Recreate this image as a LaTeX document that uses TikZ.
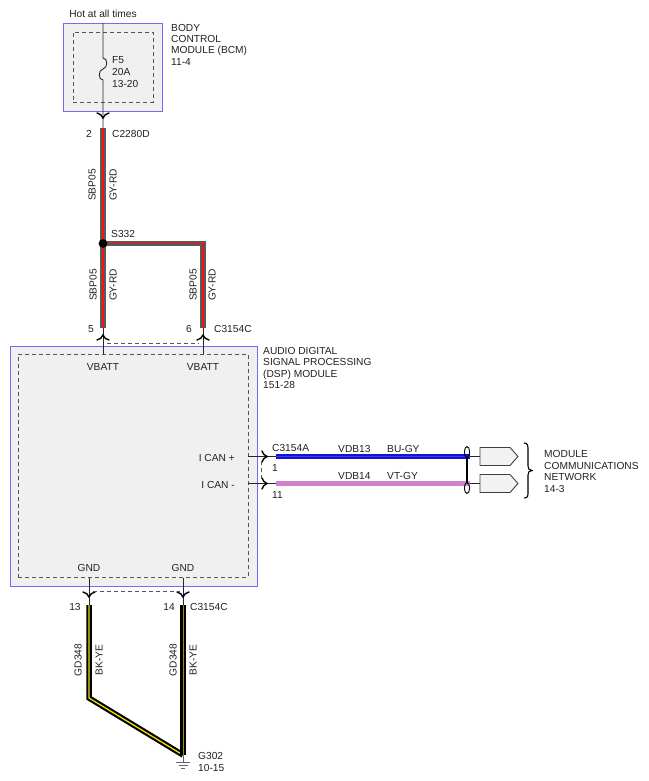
\documentclass[tikz,border=0pt]{standalone}
\usepackage{fontspec}
\setmainfont{Liberation Sans}
\definecolor{txt}{HTML}{222222}
\definecolor{boxblue}{HTML}{6E6EF5}
\definecolor{boxfill}{HTML}{F0F0F0}
\definecolor{dsh}{HTML}{555555}
\definecolor{wgray}{HTML}{5A5A5A}
\definecolor{wred}{HTML}{FF1010}
\definecolor{wblue}{HTML}{1414D0}
\definecolor{wbluest}{HTML}{3A3AE8}
\definecolor{wvt}{HTML}{D47ED4}
\definecolor{wvtst}{HTML}{B890B8}
\definecolor{wyel}{HTML}{F0E000}
\definecolor{wyeldk}{HTML}{A09000}
\definecolor{pentfill}{HTML}{F2F2F2}
\tikzset{
 lbl/.style={font=\fontsize{10.2}{11.3}\selectfont, text=txt, inner sep=0pt, anchor=base west},
 lblc/.style={lbl, anchor=base},
 lble/.style={lbl, anchor=base east},
 vlbl/.style={font=\fontsize{10.2}{11.3}\selectfont, text=txt, inner sep=0pt, rotate=90, anchor=center},
 modbox/.style={draw=boxblue, line width=1.2pt, fill=boxfill, inner sep=0pt, anchor=north west},
 inbox/.style={draw=dsh, line width=0.9pt, dash pattern=on 4pt off 3pt, inner sep=0pt, anchor=north west},
 thinw/.style={draw=black!85, line width=0.9pt},
 dashw/.style={draw=dsh, line width=0.9pt, dash pattern=on 4pt off 3pt},
 chev/.style={draw=black, line width=1.4pt, line cap=round},
 gyrd/.style={draw=wgray, double=wred, double distance=1.1pt, line width=2pt, line join=miter},
 bugy/.style={draw=wblue, double=wbluest, double distance=1pt, line width=2.2pt},
 vtgy/.style={draw=wvt, double=wvtst, double distance=1pt, line width=2.2pt},
 bkye/.style={draw=black, double=wyel, double distance=1.3pt, line width=2.1pt, line join=miter},
 bkyed/.style={draw=black, double=wyeldk, double distance=0.9pt, line width=2.3pt},
 pent/.style={draw=black!75, line width=0.9pt, fill=pentfill},
 chevdn/.pic={\draw[chev] (-6,-5) .. controls (-3,-4.5) and (-1,-2.5) .. (0,0) .. controls (1,-2.5) and (3,-4.5) .. (6,-5);},
 chevup/.pic={\draw[chev] (-6,5) .. controls (-3,4.5) and (-1,2.5) .. (0,0) .. controls (1,2.5) and (3,4.5) .. (6,5);},
 chevrt/.pic={\draw[chev] (-5,-5.5) .. controls (-4.5,-3) and (-2.5,-1) .. (0,0) .. controls (-2.5,1) and (-4.5,3) .. (-5,5.5);},
}
\begin{document}
\begin{tikzpicture}[x=1pt,y=-1pt]
\useasboundingbox[fill=white] (0,0) rectangle (648,781);

% ---------- BCM ----------
\node[modbox, minimum width=99pt, minimum height=88pt] (bcm) at (63,23) {};
\node[inbox, minimum width=80pt, minimum height=70pt] (bcmin) at (73,32) {};
\node[lblc] (hot) at (103,17.6) {Hot at all times};
\node[lbl] (bcm1) at (171,31.6) {BODY};
\node[lbl] (bcm2) at (171,42.8) {CONTROL};
\node[lbl] (bcm3) at (171,54.0) {MODULE (BCM)};
\node[lbl] (bcm4) at (171,65.2) {11-4};
\node[lbl] (f1) at (112,63.6) {F5};
\node[lbl] (f2) at (112,75.8) {20A};
\node[lbl] (f3) at (112,88.0) {13-20};
\coordinate (ftop) at (103,23);
\coordinate (fa) at (103,58);
\coordinate (fb) at (103,69);
\coordinate (fc) at (103,80);
\coordinate (c1) at (103,128);
\draw[thinw] (ftop) -- (fa) .. controls (108,58) and (108,68) .. (fb)
  .. controls (98,70) and (98,80) .. (fc) -- (c1);
\pic at (103,118) {chevdn};
\node[lblc] (p2) at (89,137.6) {2};
\node[lbl] (cn1) at (112,137.6) {C2280D};

% ---------- upper GY-RD wire ----------
\coordinate (s332) at (103,243.5);
\draw[gyrd] (c1) -- (s332);
\node[vlbl] (w1a) at (92,185) {SBP05};
\node[vlbl] (w1b) at (113,185) {GY-RD};
\coordinate (c5) at (103,328);
\coordinate (c6) at (203,328);
\draw[gyrd] (s332) -- (c5);
\draw[gyrd] (s332) -| (c6);
\fill[black] (s332) circle (4.4);
\node[lbl] (s332l) at (111,237.6) {S332};
\node[vlbl] (w2a) at (93,285) {SBP05};
\node[vlbl] (w2b) at (113,285) {GY-RD};
\node[vlbl] (w3a) at (193,285) {SBP05};
\node[vlbl] (w3b) at (212,285) {GY-RD};
\node[lblc] (p5) at (91,332.6) {5};
\node[lblc] (p6) at (189,332.6) {6};
\node[lbl] (cn2) at (214,332.6) {C3154C};

% ---------- DSP module ----------
\node[modbox, minimum width=247pt, minimum height=240pt] (dsp) at (10,346) {};
\node[inbox, minimum width=230pt, minimum height=223pt] (dspin) at (18,354) {};
\coordinate (vb1) at (103,354);
\coordinate (vb2) at (203,354);
\draw[thinw] (c5) -- (vb1);
\draw[thinw] (c6) -- (vb2);
\pic at (103,335) {chevup};
\pic at (203,335) {chevup};
\draw[dashw] (107,343) -- (199,343);
\node[lblc] (vbt1) at (103,370.6) {VBATT};
\node[lblc] (vbt2) at (203,370.6) {VBATT};
\node[lbl] (dsp1) at (263,354.6) {AUDIO DIGITAL};
\node[lbl] (dsp2) at (263,365.8) {SIGNAL PROCESSING};
\node[lbl] (dsp3) at (263,377.0) {(DSP) MODULE};
\node[lbl] (dsp4) at (263,388.2) {151-28};

% ---------- CAN ----------
\node[lble] (canp) at (235,461.3) {I CAN +};
\node[lble] (canm) at (235,488.0) {I CAN -};
\coordinate (cp0) at (248,456.5);
\coordinate (cm0) at (248,483.5);
\coordinate (cp1) at (276,456.5);
\coordinate (cm1) at (276,483.5);
\coordinate (cp2) at (470,456.5);
\coordinate (cm2) at (470,483.5);
\draw[thinw] (cp0) -- (cp1);
\draw[thinw] (cm0) -- (cm1);
\pic at (267,456.5) {chevrt};
\pic at (267,483.5) {chevrt};
\draw[dashw] (261,461) -- (261,479);
\node[lbl] (cn3) at (272,451.6) {C3154A};
\node[lbl] (p1) at (272,471.6) {1};
\node[lbl] (p11) at (272,498.6) {11};
\draw[bugy] (cp1) -- (cp2);
\draw[vtgy] (cm1) -- (cm2);
\node[lbl] (vdb13) at (338,452) {VDB13};
\node[lbl] (bugyl) at (387,452) {BU-GY};
\node[lbl] (vdb14) at (338,479) {VDB14};
\node[lbl] (vtgyl) at (387,479) {VT-GY};
% twisted pair
\draw[black, line width=0.9pt] (467,452) ellipse (2.6 and 5.5);
\draw[black, line width=0.9pt] (467,488) ellipse (2.6 and 5.5);
\draw[black, line width=1.1pt] (467,457) -- (467,482.5);
% module network
\coordinate (e1) at (480,456.5);
\coordinate (e2) at (480,483.5);
\draw[thinw] (cp2) -- (e1);
\draw[thinw] (cm2) -- (e2);
\draw[pent] (480,447.5) -- (510,447.5) -- (518,456.5) -- (510,465.5) -- (480,465.5) -- cycle;
\draw[pent] (480,474.5) -- (510,474.5) -- (518,483.5) -- (510,492.5) -- (480,492.5) -- cycle;
\draw[black, line width=1.1pt] (524,443) .. controls (528,443) and (528,446) .. (528,450) -- (528,466)
  .. controls (528,469) and (529,470) .. (532,470.5) .. controls (529,471) and (528,472) .. (528,475)
  -- (528,492) .. controls (528,496) and (528,498) .. (524,498);
\node[lbl] (mcn1) at (544,457.6) {MODULE};
\node[lbl] (mcn2) at (544,469.1) {COMMUNICATIONS};
\node[lbl] (mcn3) at (544,480.6) {NETWORK};
\node[lbl] (mcn4) at (544,492.1) {14-3};

% ---------- GND ----------
\node[lblc] (gnd1) at (89,571.6) {GND};
\node[lblc] (gnd2) at (183,571.6) {GND};
\coordinate (g1a) at (89,578);
\coordinate (g2a) at (183,578);
\coordinate (g1) at (89,605);
\coordinate (g2) at (183,605);
\draw[thinw] (g1a) -- (g1);
\draw[thinw] (g2a) -- (g2);
\pic at (89,597) {chevdn};
\pic at (183,597) {chevdn};
\draw[dashw] (93,591) -- (180,591);
\node[lblc] (p13) at (75,610.6) {13};
\node[lblc] (p14) at (169,610.6) {14};
\node[lbl] (cn4) at (190,610.6) {C3154C};
\coordinate (gb) at (89,698);
\coordinate (gg) at (183,755);
\draw[bkye] (g1) -- (gb) -- (gg);
\draw[bkyed] (g2) -- (gg);
\node[vlbl] (w4a) at (78,660) {GD348};
\node[vlbl] (w4b) at (99,660) {BK-YE};
\node[vlbl] (w5a) at (173,660) {GD348};
\node[vlbl] (w5b) at (193,660) {BK-YE};
\coordinate (gs) at (183,762);
\draw[black!60, line width=0.8pt] (gg) -- (gs);
\draw[black!60, line width=0.8pt] (176,762) -- (190,762);
\draw[black!60, line width=0.8pt] (178.5,765) -- (187.5,765);
\draw[black!60, line width=0.8pt] (181,768) -- (185,768);
\node[lbl] (g302) at (198,759.6) {G302};
\node[lbl] (g302b) at (198,771.6) {10-15};
\end{tikzpicture}
\end{document}
